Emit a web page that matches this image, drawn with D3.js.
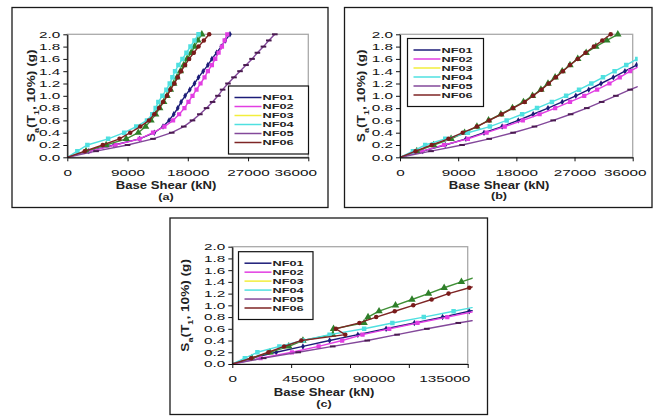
<!DOCTYPE html>
<html>
<head>
<meta charset="utf-8">
<script src="https://cdn.jsdelivr.net/npm/d3@7"></script>
<style>
    body { margin: 0; background: #fff; }
    svg { display: block; font-family: "Liberation Sans", Arial, sans-serif; }
</style>
</head>
<body>
<svg id="chart" width="656" height="417"></svg>
<script>
// spectral acceleration levels of the IDA runs (g)
const saLevels = [0, 0.1, 0.2, 0.3, 0.4, 0.5, 0.6, 0.7, 0.8, 0.9, 1.0,
    1.1, 1.2, 1.3, 1.4, 1.5, 1.6, 1.7, 1.8, 1.9, 2.0];
const seriesNames = ['NF01', 'NF02', 'NF03', 'NF04', 'NF05', 'NF06'];
const yTickValues = [0, 0.2, 0.4, 0.6, 0.8, 1.0, 1.2, 1.4, 1.6, 1.8, 2.0];

// base shear (kN) at each Sa level, panel (a)
const aNF01 = [0, 3200, 7000, 10800, 13000, 14300, 15200, 15900, 16500, 17000, 17600, 18300, 19000, 19600, 20300, 21000, 21600, 22300, 23000, 23600, 24300];
const aNF02 = [0, 3300, 7200, 10800, 12800, 14500, 15800, 16700, 17500, 18100, 18700, 19300, 19900, 20500, 21000, 21600, 22100, 22600, 23100, 23500, 23900];
const aNF03 = [0, 2800, 5800, 8800, 10600, 11700, 12500, 13200, 13800, 14400, 14900, 15400, 15900, 16400, 16900, 17400, 17900, 18500, 19000, 19500, 20100];
const aNF04 = [0, 1500, 3000, 6100, 8500, 10300, 11900, 12700, 13200, 13600, 14200, 14800, 15300, 15700, 16100, 16600, 17200, 17800, 18400, 19000, 19600];
const aNF05 = [0, 4300, 9000, 12800, 15600, 17400, 18700, 19800, 20800, 21700, 22500, 23200, 24000, 24900, 25800, 26700, 27600, 28400, 29300, 30100, 31000];
const aNF06 = [0, 2600, 5300, 7800, 9400, 10900, 12200, 13000, 13700, 14300, 14900, 15400, 16000, 16500, 17000, 17600, 18200, 18900, 19600, 20400, 21200];

// panel (b)
const bNF01 = [0, 3500, 7000, 10200, 13000, 15800, 18300, 20600, 22900, 25100, 27200, 29200, 31100, 33000, 34800, 36600];
const bNF02 = [0, 3400, 6800, 10500, 13400, 16200, 19000, 21600, 24000, 26300, 28500, 30500, 32400, 34000, 35600, 37400];
const bNF03 = [0, 2600, 5200, 7900, 10000, 11900, 13700, 15600, 17400, 19100, 20500, 21800, 22900, 24000, 25100, 26300, 27500, 28800, 30300, 32000, 33700];
const bNF04 = [0, 2000, 3900, 7000, 10500, 13900, 16500, 18900, 21200, 23500, 25700, 27700, 29600, 31400, 33200, 35000, 36700];
const bNF05 = [0, 4800, 9600, 13800, 17500, 20800, 23700, 26400, 28900, 31200, 33400, 35600, 38000];
const bNF06 = [0, 2400, 4900, 7500, 9700, 11900, 13800, 15700, 17500, 19300, 20600, 21900, 23000, 24100, 25200, 26300, 27500, 28700, 30000, 31300, 32600];

// panel (c)
const cNF01 = [0, 12000, 28000, 45000, 62000, 80000, 98000, 116000, 134000, 151000, 168000];
const cNF02 = [0, 18000, 38000, 55000, 70000, 83000, 100000, 118000, 137000, 155000];
const cNF03 = [0, 12500, 24000, 36000, 45000, 64000, 64500, 84000, 86500, 93500, 104000, 114500, 125000, 135000, 146000, 157000];
const cNF04 = [0, 8000, 16000, 30000, 45000, 62000, 84000, 102000, 122000, 141000, 160000];
const cNF05 = [0, 20000, 42000, 64000, 86000, 105000, 124000, 144000, 166000];
const cNF06 = [0, 12000, 23000, 33000, 44000, 72000, 66000, 81000, 91700, 103500, 115300, 127000, 137800, 151000, 164000];

// x axis ticks and labels
const abTickValues = [0, 9000, 18000, 27000, 36000];
const cTickValues = [0, 37500, 75000, 112500, 150000];
const cLabelValues = [0, 45000, 90000, 135000];

const legendColors = ['#1c1c78', '#e23ee2', '#f2ee3c', '#4fe0e0', '#83489a', '#7e2525'];
const lineColors = ['#1c1c78', '#e23ee2', '#3f8f35', '#4fe0e0', '#83489a', '#7e2525'];
const markerColors = ['#1c1c78', '#e23ee2', '#2f7f2a', '#4fe0e0', '#4a1a50', '#7a1b1b'];

const svg = d3.select('#chart');
const fontScale = 1.7;

const panels = [
    {
        id: 'a', label: '(a)', series: [aNF01, aNF02, aNF03, aNF04, aNF05, aNF06],
        frame: [12, 7.5, 328, 207.5], plot: [67.3, 308.3, 157.3, 34.3],
        xMax: 36000, ticks: abTickValues, labels: abTickValues, lastShift: -13,
        legend: [228.5, 86, 80, 68], yTitleX: 31, titleX: 166, xTitleY: 189, subY: 200
    },
    {
        id: 'b', label: '(b)', series: [bNF01, bNF02, bNF03, bNF04, bNF05, bNF06],
        frame: [344.5, 7.5, 652, 207.5], plot: [400, 632.7, 157.3, 34.3],
        xMax: 36000, ticks: abTickValues, labels: abTickValues, lastShift: -8,
        legend: [407.5, 38.5, 76, 68], yTitleX: 361, titleX: 499, xTitleY: 189, subY: 199
    },
    {
        id: 'c', label: '(c)', series: [cNF01, cNF02, cNF03, cNF04, cNF05, cNF06],
        frame: [170, 218, 487.5, 414.5], plot: [232.3, 467.7, 364, 246.7],
        xMax: 150000, ticks: cTickValues, labels: cLabelValues, lastShift: 0,
        legend: [238.5, 251.7, 74.5, 67.8], yTitleX: 185, titleX: 324, xTitleY: 396, subY: 407
    }
];

panels.forEach(drawPanel);

function drawMarker(sel, k, color) {
    if (k === 4) {
        sel.append('rect').attr('x', -2.8).attr('y', -1).attr('width', 5.6).attr('height', 2).attr('fill', color);
        return;
    }
    const types = [d3.symbolDiamond, d3.symbolSquare, d3.symbolTriangle, d3.symbolSquare, null, d3.symbolCircle];
    const sizes = [12, 18, 24, 20, 0, 16];
    sel.append('path')
        .attr('d', d3.symbol().type(types[k]).size(sizes[k]))
        .attr('fill', color);
}

function drawPanel(p) {
    const [px0, px1, py0, py1] = p.plot;
    const x = d3.scaleLinear().domain([0, p.xMax]).range([px0, px1]);
    const y = d3.scaleLinear().domain([0, 2]).range([py0, py1]);
    const g = svg.append('g').attr('class', 'panel-' + p.id);

    g.append('rect')
        .attr('x', p.frame[0]).attr('y', p.frame[1])
        .attr('width', p.frame[2] - p.frame[0]).attr('height', p.frame[3] - p.frame[1])
        .attr('fill', 'none').attr('stroke', '#1a1a1a').attr('stroke-width', 1.3);

    // plot area border (gray)
    g.append('rect')
        .attr('x', px0).attr('y', py1)
        .attr('width', px1 - px0).attr('height', py0 - py1)
        .attr('fill', 'none').attr('stroke', '#a9a9a9').attr('stroke-width', 1.3);

    g.append('clipPath').attr('id', 'clip-' + p.id)
        .append('rect')
        .attr('x', px0 - 6).attr('y', py1 - 6)
        .attr('width', px1 - px0 + 11).attr('height', py0 - py1 + 12);

    const elSeries = g.append('g').attr('clip-path', `url(#clip-${p.id})`);
    const line = d3.line()
        .x(d => x(d[0]))
        .y(d => y(d[1]));

    p.series.forEach((vals, k) => {
        const pts = vals.map((v, i) => [v, saLevels[i]]);
        elSeries.append('path')
            .attr('d', line(pts))
            .attr('fill', 'none')
            .attr('stroke', lineColors[k])
            .attr('stroke-width', 1.4);
        elSeries.selectAll('g.m' + k)
            .data(pts.slice(1))
            .join('g')
            .attr('class', 'm' + k)
            .attr('transform', d => `translate(${x(d[0])},${y(d[1])})`)
            .each(function () { drawMarker(d3.select(this), k, markerColors[k]); });
    });

    // y axis
    g.append('g')
        .attr('transform', `translate(${px0},0)`)
        .call(d3.axisLeft(y).tickValues(yTickValues).tickFormat(d3.format('.1f')).tickSize(4).tickSizeOuter(0))
        .call(a => a.select('.domain').attr('stroke', '#111').attr('stroke-width', 1.2))
        .call(a => a.selectAll('.tick line').attr('stroke', '#111'))
        .call(a => a.selectAll('.tick text')
            .attr('x', -7 / fontScale)
            .attr('transform', `scale(${fontScale},1)`)
            .attr('font-size', 9).attr('fill', '#111').attr('font-family', null));

    // x axis: tick marks
    g.append('g')
        .attr('transform', `translate(0,${py0})`)
        .call(d3.axisBottom(x).tickValues(p.ticks).tickFormat('').tickSize(4).tickSizeOuter(0))
        .call(a => a.select('.domain').attr('stroke', '#111').attr('stroke-width', 1.2))
        .call(a => a.selectAll('.tick line').attr('stroke', '#111'));

    // x axis: labels
    const nLab = p.labels.length;
    g.append('g')
        .attr('transform', `translate(0,${py0})`)
        .call(d3.axisBottom(x).tickValues(p.labels).tickFormat(d3.format('d')).tickSize(0).tickPadding(12))
        .call(a => a.select('.domain').remove())
        .call(a => a.selectAll('.tick text')
            .attr('transform', `scale(${fontScale},1)`)
            .attr('dx', (d, i) => (i === nLab - 1 ? p.lastShift : 0) / fontScale)
            .attr('font-size', 9).attr('fill', '#111').attr('font-family', null));

    // axis titles
    const cx = p.titleX;
    g.append('text')
        .attr('x', cx).attr('y', p.xTitleY)
        .attr('text-anchor', 'middle')
        .attr('font-size', 10.5).attr('font-weight', 'bold').attr('fill', '#222')
        .attr('transform', `translate(${cx},0) scale(1.25,1) translate(${-cx},0)`)
        .text('Base Shear (kN)');
    g.append('text')
        .attr('x', cx).attr('y', p.subY)
        .attr('text-anchor', 'middle')
        .attr('font-size', 9).attr('font-weight', 'bold').attr('fill', '#222')
        .attr('transform', `translate(${cx},0) scale(1.4,1) translate(${-cx},0)`)
        .text(p.label);

    const yt = g.append('text')
        .attr('transform', `translate(${p.yTitleX},${(py0 + py1) / 2}) rotate(-90) scale(1.3,1)`)
        .attr('text-anchor', 'middle')
        .attr('dy', '0.35em')
        .attr('font-size', 10.5).attr('font-weight', 'bold').attr('fill', '#222');
    yt.append('tspan').text('S');
    yt.append('tspan').attr('font-size', 7).attr('baseline-shift', 'sub').text('a');
    yt.append('tspan').text('(T');
    yt.append('tspan').attr('font-size', 7).attr('baseline-shift', 'sub').text('1');
    yt.append('tspan').text(', 10%) (g)');

    // legend
    const [lx, ly, lw, lh] = p.legend;
    const elLegend = g.append('g').attr('transform', `translate(${lx},${ly})`);
    elLegend.append('rect')
        .attr('width', lw).attr('height', lh)
        .attr('fill', '#fff').attr('stroke', '#111').attr('stroke-width', 1.2);
    const rowY = d3.scalePoint().domain(seriesNames).range([11.5, lh - 11.5]);
    seriesNames.forEach((name, k) => {
        elLegend.append('line')
            .attr('x1', 6).attr('x2', 33)
            .attr('y1', rowY(name)).attr('y2', rowY(name))
            .attr('stroke', legendColors[k]).attr('stroke-width', 1.5);
        elLegend.append('text')
            .attr('x', 34 / fontScale).attr('y', rowY(name))
            .attr('dy', '0.35em')
            .attr('transform', `scale(${fontScale},1)`)
            .attr('font-size', 7.5).attr('font-weight', 'bold').attr('fill', '#222')
            .text(name);
    });
}
</script>
</body>
</html>
